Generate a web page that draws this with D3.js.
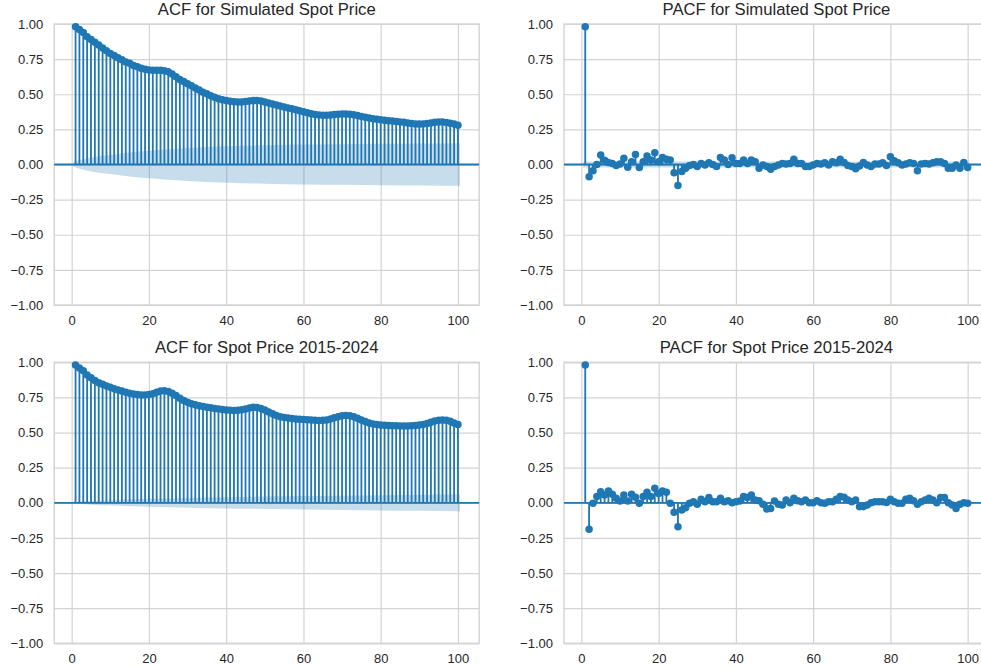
<!DOCTYPE html>
<html>
<head>
<meta charset="utf-8">
<script src="https://cdn.jsdelivr.net/npm/d3@7"></script>
<style>
  body { margin: 0; background: #ffffff; }
  svg { display: block; font-family: "Liberation Sans", Arial, sans-serif; }
</style>
</head>
<body>
<svg id="chart" width="981" height="668"></svg>
<script>
// Lags 1..100 (lag 0 omitted)
const lags = d3.range(1, 101);

// Autocorrelation of the simulated spot price
const acfSim = [
  0.98, 0.96, 0.94, 0.91, 0.89, 0.87, 0.85, 0.83, 0.81, 0.79,
  0.775, 0.76, 0.745, 0.73, 0.72, 0.705, 0.695, 0.685, 0.678, 0.672,
  0.67, 0.67, 0.67, 0.668, 0.66, 0.645, 0.625, 0.605, 0.59, 0.575,
  0.56, 0.545, 0.53, 0.515, 0.503, 0.49, 0.478, 0.468, 0.46, 0.455,
  0.45, 0.447, 0.445, 0.445, 0.448, 0.452, 0.455, 0.455, 0.452, 0.445,
  0.438, 0.43, 0.424, 0.417, 0.41, 0.403, 0.396, 0.389, 0.382, 0.375,
  0.368, 0.361, 0.356, 0.352, 0.35, 0.35, 0.352, 0.355, 0.358, 0.36,
  0.36, 0.358, 0.354, 0.348, 0.342, 0.336, 0.331, 0.326, 0.322, 0.318,
  0.315, 0.312, 0.309, 0.306, 0.303, 0.3, 0.296, 0.292, 0.289, 0.288,
  0.289, 0.292, 0.296, 0.3, 0.302, 0.302, 0.299, 0.294, 0.288, 0.28
];

// Partial autocorrelation of the simulated spot price
const pacfSim = [
  0.98, -0.087, -0.044, 0.0, 0.068, 0.03, 0.015, 0.008, -0.008, 0.004,
  0.044, -0.02, 0.02, 0.072, -0.022, 0.02, 0.06, 0.032, 0.084, 0.02,
  0.05, 0.037, 0.032, -0.058, -0.15, -0.05, -0.027, -0.008, 0.0, -0.015,
  0.008, -0.003, 0.013, 0.0, -0.015, 0.05, 0.032, 0.0, 0.048, 0.008,
  0.008, 0.032, 0.008, 0.032, 0.02, -0.027, -0.003, -0.015, -0.034, -0.015,
  -0.003, 0.008, 0.004, 0.008, 0.037, 0.008, 0.008, -0.015, -0.015, -0.003,
  0.008, 0.004, 0.013, -0.003, 0.02, 0.013, 0.037, 0.015, -0.008, -0.015,
  -0.03, -0.01, 0.015, -0.003, -0.015, 0.004, 0.004, 0.013, -0.008, 0.055,
  0.027, 0.013, -0.003, 0.004, 0.013, 0.008, -0.044, 0.004, 0.008, 0.004,
  0.013, 0.02, 0.02, 0.008, -0.027, -0.027, -0.003, -0.027, 0.015, -0.022
];

// Autocorrelation of the 2015-2024 spot price
const acfHist = [
  0.98, 0.96, 0.94, 0.91, 0.89, 0.87, 0.855, 0.843, 0.832, 0.822,
  0.812, 0.803, 0.795, 0.787, 0.78, 0.775, 0.77, 0.767, 0.767, 0.77,
  0.777, 0.787, 0.795, 0.798, 0.793, 0.78, 0.763, 0.745, 0.728, 0.715,
  0.705, 0.697, 0.69, 0.685, 0.68, 0.676, 0.672, 0.668, 0.664, 0.66,
  0.658, 0.657, 0.658, 0.662, 0.668, 0.675, 0.68, 0.679, 0.672, 0.66,
  0.647, 0.634, 0.622, 0.613, 0.607, 0.603, 0.6, 0.597, 0.595, 0.593,
  0.591, 0.589, 0.587, 0.586, 0.587, 0.59, 0.597, 0.605, 0.613, 0.619,
  0.622, 0.62, 0.613, 0.602, 0.59, 0.578, 0.568, 0.561, 0.557, 0.554,
  0.552, 0.55, 0.549, 0.548, 0.547, 0.547, 0.547, 0.548, 0.55, 0.553,
  0.558, 0.565, 0.573, 0.582, 0.588, 0.59, 0.588, 0.58, 0.568, 0.558
];

// Partial autocorrelation of the 2015-2024 spot price
const pacfHist = [
  0.98, -0.189, -0.004, 0.044, 0.079, 0.055, 0.084, 0.06, 0.032, 0.013,
  0.055, 0.013, 0.06, 0.039, -0.004, 0.044, 0.075, 0.044, 0.103, 0.067,
  0.084, 0.075, -0.004, -0.068, -0.17, -0.051, -0.035, -0.004, 0.008, -0.011,
  0.025, 0.008, 0.037, 0.008, 0.008, 0.032, 0.008, 0.015, 0.0, 0.008,
  0.013, 0.044, 0.037, 0.055, 0.02, 0.015, -0.011, -0.044, -0.04, 0.013,
  -0.011, -0.016, 0.02, 0.0, 0.032, 0.015, 0.008, 0.02, 0.0, 0.0,
  0.015, 0.0, -0.004, 0.008, 0.008, 0.025, 0.044, 0.039, 0.02, 0.008,
  0.02, -0.028, -0.028, -0.016, 0.0, 0.008, 0.008, 0.008, 0.003, 0.025,
  0.008, -0.004, -0.004, 0.025, 0.032, 0.015, -0.011, 0.008, 0.02, 0.032,
  0.02, 0.0, 0.037, 0.037, 0.0, -0.016, -0.04, -0.011, 0.0, -0.004
];

// 95% confidence band half-widths, sampled along the lag axis
const acfBandLags  = [0.5, 2, 5, 10, 15, 20, 30, 40, 50, 60, 70, 80, 90, 100.5];
const acfSimBand   = [0.018, 0.03, 0.05, 0.068, 0.085, 0.098, 0.117, 0.13, 0.137, 0.142, 0.145, 0.147, 0.149, 0.151];
const acfHistBand  = [0.005, 0.008, 0.013, 0.019, 0.024, 0.028, 0.035, 0.04, 0.044, 0.048, 0.051, 0.054, 0.057, 0.06];
const pacfBandLags = [0.5, 100.5];
const pacfSimBand  = [0.022, 0.022];
const pacfHistBand = [0.006, 0.006];

// Axis ticks
const xTicks = [0, 20, 40, 60, 80, 100];
const yTicks = [-1, -0.75, -0.5, -0.25, 0, 0.25, 0.5, 0.75, 1];

const titles = [
  "ACF for Simulated Spot Price",
  "PACF for Simulated Spot Price",
  "ACF for Spot Price 2015-2024",
  "PACF for Spot Price 2015-2024"
];

const BLUE = "#1f77b4";
const GRID = "#d3d3d3";
const TEXT = "#262626";

const panels = [
  { title: titles[0], values: acfSim,   bandX: acfBandLags,  band: acfSimBand,   left: 54.3, top: 24 },
  { title: titles[1], values: pacfSim,  bandX: pacfBandLags, band: pacfSimBand,  left: 564,  top: 24 },
  { title: titles[2], values: acfHist,  bandX: acfBandLags,  band: acfHistBand,  left: 54.3, top: 362.3 },
  { title: titles[3], values: pacfHist, bandX: pacfBandLags, band: pacfHistBand, left: 564,  top: 362.3 }
];

const W = 424.9, H = 281;
const svg = d3.select("#chart");
const fmt = d3.format(".2f");

panels.forEach(p => {
  const g = svg.append("g").attr("transform", `translate(${p.left},${p.top})`);
  const x = d3.scaleLinear().domain([-4.5, 105.5]).range([0, W]);
  const y = d3.scaleLinear().domain([-1, 1]).range([H, 0]);

  // y grid + labels
  const yAxis = g.append("g")
    .call(d3.axisLeft(y).tickValues(yTicks).tickFormat(fmt).tickSize(-W).tickPadding(11));
  // x grid + labels
  const xAxis = g.append("g").attr("transform", `translate(0,${H})`)
    .call(d3.axisBottom(x).tickValues(xTicks).tickFormat(d3.format("d")).tickSize(-H).tickPadding(10.5));
  [yAxis, xAxis].forEach(a => {
    a.select(".domain").remove();
    a.selectAll(".tick line").attr("stroke", GRID).attr("stroke-width", 1.2);
    a.selectAll(".tick text").attr("fill", TEXT).style("font-size", "13px")
      .style("font-family", '"Liberation Sans", Arial, sans-serif');
  });

  // frame
  g.append("rect").attr("x", 0).attr("y", 0).attr("width", W).attr("height", H)
    .attr("fill", "none").attr("stroke", GRID).attr("stroke-width", 1.4);

  // confidence band
  const bandPts = p.bandX.map((l, i) => ({ l, h: p.band[i] }));
  g.append("path").datum(bandPts)
    .attr("d", d3.area().x(d => x(d.l)).y0(d => y(-d.h)).y1(d => y(d.h)).curve(d3.curveMonotoneX))
    .attr("fill", BLUE).attr("fill-opacity", 0.25);

  const pts = lags.map((l, i) => ({ l, v: p.values[i] }));

  // stems
  g.append("g").selectAll("line").data(pts).join("line")
    .attr("x1", d => x(d.l)).attr("x2", d => x(d.l))
    .attr("y1", y(0)).attr("y2", d => y(d.v))
    .attr("stroke", BLUE).attr("stroke-width", 1.83);

  // zero line
  g.append("line").attr("x1", 0).attr("x2", W).attr("y1", y(0)).attr("y2", y(0))
    .attr("stroke", BLUE).attr("stroke-width", 1.83);

  // markers
  g.append("g").selectAll("circle").data(pts).join("circle")
    .attr("cx", d => x(d.l)).attr("cy", d => y(d.v)).attr("r", 3.75)
    .attr("fill", BLUE);

  // title
  g.append("text").attr("x", W / 2).attr("y", -9)
    .attr("text-anchor", "middle").attr("fill", TEXT)
    .style("font-size", "16.7px").text(p.title);
});
</script>
</body>
</html>
